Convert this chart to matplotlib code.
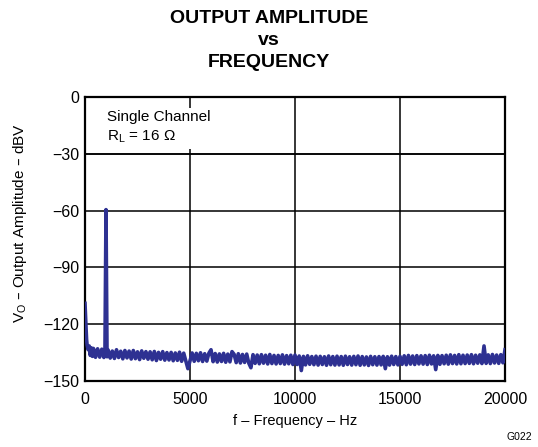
import matplotlib.pyplot as plt

plt.rcParams['font.family'] = ['Liberation Sans', 'DejaVu Sans']

# low-frequency part of the spectrum (Hz, dBV), incl. the 1 kHz tone
freq_low = [0, 25, 50, 75, 100, 150, 200, 250, 300, 350, 400, 500, 600, 700,
            800, 900, 950, 1000, 1050]
level_low = [-109, -116, -122, -128, -131, -133.5, -131.5, -136.5, -132.5, -137.0,
             -132.8, -137.5, -133.0, -137.4, -133.2, -137.6, -133.8, -59.5, -137.2]

# noise floor from 1100 Hz to 20000 Hz, 100 Hz steps
freq_floor = list(range(1100, 20001, 100))
level_floor = [
    -133.6, -137.9, -134.2, -138.1, -133.5, -137.6, -134.3, -138.3, -133.9, -137.8,
    -134.2, -138.4, -133.9, -138.2, -134.6, -138.7, -134.1, -138.0, -134.5, -138.5,
    -134.6, -138.8, -134.4, -139.2, -134.9, -138.5, -134.5, -139.0, -135.0, -138.9,
    -134.9, -139.3, -135.2, -139.1, -134.8, -139.6, -135.3, -139.4, -143.5, -139.3,
    -135.2, -139.6, -135.4, -139.3, -135.1, -139.7, -135.6, -139.5, -135.3, -133.5,
    -139.8, -135.5, -140.0, -135.7, -139.7, -135.4, -140.1, -135.8, -139.9, -134.5,
    -135.9, -140.3, -135.6, -140.5, -136.0, -140.2, -135.8, -140.6, -143.0, -136.1,
    -140.7, -136.3, -140.9, -136.1, -140.6, -136.4, -141.0, -136.0, -140.8, -136.5,
    -141.0, -136.5, -140.8, -136.2, -141.1, -136.6, -140.9, -136.4, -141.3, -136.3,
    -141.3, -136.8, -144.5, -137.0, -141.5, -136.7, -141.2, -137.1, -141.4, -136.9,
    -141.6, -137.0, -141.3, -137.2, -141.7, -136.8, -141.4, -137.1, -141.6, -136.9,
    -141.5, -137.1, -141.7, -136.9, -141.3, -137.2, -141.6, -137.0, -141.4, -136.8,
    -141.7, -137.1, -141.5, -137.3, -141.8, -137.0, -141.4, -137.2, -141.6, -137.1,
    -141.5, -137.0, -143.5, -137.2, -141.6, -136.9, -141.3, -137.1, -141.5, -137.0,
    -141.2, -136.7, -141.4, -136.5, -141.1, -136.8, -141.3, -136.6, -141.0, -136.7,
    -141.1, -136.6, -141.3, -136.4, -141.0, -136.7, -144.0, -136.5, -141.2, -136.6,
    -140.9, -136.4, -141.1, -136.2, -140.8, -136.5, -141.0, -136.1, -140.9, -136.4,
    -140.8, -136.3, -140.7, -136.1, -140.9, -136.4, -140.6, -136.2, -140.8, -131.5,
    -140.7, -136.2, -140.8, -136.0, -140.5, -136.3, -140.7, -136.1, -140.4, -133.5,
]

x_ticks = [0, 5000, 10000, 15000, 20000]
y_ticks = [0, -30, -60, -90, -120, -150]
y_labels = ['0', '\u221230', '\u221260', '\u221290', '\u2212120', '\u2212150']

freq = freq_low + freq_floor
level = level_low + level_floor

fig = plt.figure(figsize=(5.38, 4.47), dpi=100)
ax = fig.add_axes([0.158, 0.1477, 0.7807, 0.6353])

ax.plot(freq, level, color='#2E3192', lw=2.6, zorder=3)

ax.set_xlim(0, 20000)
ax.set_ylim(-150, 0)
ax.set_xticks(x_ticks)
ax.set_yticks(y_ticks)
ax.set_yticklabels(y_labels)
ax.tick_params(length=0, labelsize=11.5)
ax.tick_params(axis='x', pad=8)
ax.tick_params(axis='y', pad=4)
ax.grid(True, color='black', lw=1.1)
for s in ax.spines.values():
    s.set_linewidth(1.6)

ax.text(1050, -7, 'Single Channel\n$\\mathregular{R_L}$ = 16 \u03a9', fontsize=11,
        va='top', ha='left', linespacing=1.35, zorder=4,
        bbox=dict(facecolor='white', edgecolor='none', pad=3))
# keep the -30 dBV grid line over the label box
ax.axhline(y_ticks[1], color='black', lw=1.1, zorder=5)

ax.set_xlabel('f \u2013 Frequency \u2013 Hz', fontsize=10.5, labelpad=5)
ax.set_ylabel('$\\mathregular{V_O}$ \u2013 Output Amplitude \u2013 dBV', fontsize=11)
ax.yaxis.set_label_coords(-0.133, 0.556)

fig.text(0.5, 0.978, 'OUTPUT AMPLITUDE\nvs\nFREQUENCY', ha='center', va='top',
         fontsize=14, fontweight='bold', linespacing=1.4)
fig.text(0.989, 0.012, 'G022', ha='right', va='bottom', fontsize=7.5)

fig.savefig('out.png', dpi=100)
